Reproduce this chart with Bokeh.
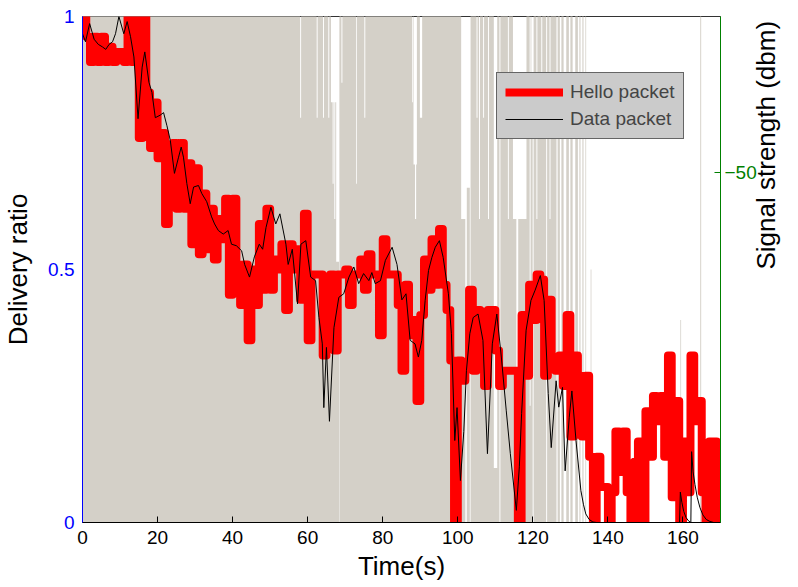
import numpy as np
from bokeh.plotting import figure
from bokeh.models import Range1d, LinearAxis, FixedTicker, Legend, LegendItem
from bokeh.embed import file_html
from bokeh.resources import INLINE

FONT = "Liberation Sans"

# Hello packet delivery ratio, one sample per second (t = 0 .. 170 s)
hello_time = list(range(0, 171))
hello_ratio = [
    1.00, 0.96, 0.91, 0.96, 0.91, 0.96, 0.91, 0.94, 0.91, 0.93,
    0.93, 0.91, 1.00, 0.91, 1.00, 0.76, 1.00, 0.85, 0.74, 0.83,
    0.72, 0.77, 0.59, 0.72, 0.75, 0.62, 0.75, 0.62, 0.71, 0.55,
    0.70, 0.53, 0.65, 0.54, 0.62, 0.52, 0.60, 0.56, 0.64, 0.45,
    0.64, 0.51, 0.43, 0.51, 0.36, 0.50, 0.43, 0.59, 0.46, 0.62,
    0.46, 0.52, 0.50, 0.55, 0.42, 0.55, 0.50, 0.54, 0.44, 0.61,
    0.36, 0.49, 0.49, 0.49, 0.33, 0.35, 0.49, 0.34, 0.49, 0.49,
    0.50, 0.43, 0.49, 0.49, 0.52, 0.46, 0.53, 0.49, 0.49, 0.37,
    0.56, 0.49, 0.49, 0.49, 0.43, 0.30, 0.47, 0.37, 0.40, 0.24,
    0.41, 0.52, 0.46, 0.56, 0.47, 0.58, 0.47, 0.42, 0.32, 0.00,
    0.32, 0.28, 0.31, 0.46, 0.30, 0.42, 0.37, 0.27, 0.42, 0.42,
    0.34, 0.27, 0.30, 0.30, 0.30, 0.30, 0.00, 0.41, 0.29, 0.47,
    0.40, 0.49, 0.48, 0.29, 0.44, 0.32, 0.30, 0.33, 0.27, 0.41,
    0.17, 0.33, 0.29, 0.17, 0.29, 0.13, 0.00, 0.13, 0.07, 0.07,
    0.00, 0.06, 0.18, 0.10, 0.18, 0.06, 0.00, 0.12, 0.16, 0.00,
    0.22, 0.13, 0.25, 0.20, 0.25, 0.13, 0.33, 0.05, 0.24, 0.00,
    0.16, 0.06, 0.33, 0.20, 0.24, 0.06, 0.00, 0.16, 0.16, 0.00,
    0.00,
]

# Data packet delivery ratio (irregular sample times, s)
data_time = [
    0.0, 0.8, 1.9, 3.1, 4.2, 5.3, 6.2, 7.1, 8.0, 8.8,
    9.7, 11.0, 11.9, 12.8, 13.7, 14.8, 15.9, 16.6, 17.7, 18.5,
    19.4, 20.7, 21.6, 22.5, 23.4, 24.5, 25.6, 26.3, 26.9, 27.8,
    28.7, 29.6, 30.9, 31.8, 33.1, 34.4, 35.2, 36.2, 37.5, 38.8,
    39.7, 41.0, 42.4, 43.2, 44.5, 45.8, 47.1, 48.0, 48.9, 50.2,
    51.5, 52.6, 54.2, 54.8, 55.9, 57.3, 58.2, 59.5, 60.8, 62.1,
    63.0, 63.9, 64.3, 65.0, 65.8, 67.0, 68.3, 69.6, 71.0, 72.3,
    73.6, 74.9, 76.3, 77.1, 78.0, 79.4, 80.7, 82.5, 83.8, 85.1,
    86.2, 87.3, 88.6, 89.5, 90.4, 91.3, 92.2, 93.1, 94.0, 95.1,
    96.1, 97.5, 98.3, 99.2, 99.8, 100.7, 101.6, 102.3, 103.2, 104.1,
    105.4, 106.7, 107.9, 109.2, 110.4, 111.6, 112.9, 114.0, 115.6, 116.4,
    117.0, 118.2, 119.5, 120.6, 122.0, 123.0, 124.1, 124.9, 126.2, 126.9,
    127.9, 128.6, 129.7, 130.4, 131.5, 132.8, 133.5, 134.1, 135.0, 136.0,
    137.0, 159.1, 159.3, 159.7, 160.2, 160.8, 161.5, 162.1, 162.3, 162.7,
    163.2, 163.8, 164.5, 165.3, 166.2, 167.2, 168.2, 170.0,
]
data_ratio = [
    0.966, 0.950, 0.986, 0.955, 0.945, 0.940, 0.935, 0.945, 0.950, 0.966,
    1.000, 0.966, 0.990, 0.960, 0.920, 0.798, 0.900, 0.930, 0.870, 0.850,
    0.800, 0.805, 0.810, 0.784, 0.755, 0.690, 0.722, 0.742, 0.722, 0.670,
    0.630, 0.663, 0.666, 0.650, 0.634, 0.604, 0.590, 0.577, 0.570, 0.577,
    0.550, 0.547, 0.537, 0.510, 0.485, 0.525, 0.550, 0.540, 0.583, 0.623,
    0.590, 0.610, 0.550, 0.510, 0.540, 0.432, 0.550, 0.557, 0.485, 0.478,
    0.405, 0.353, 0.227, 0.346, 0.200, 0.385, 0.445, 0.452, 0.485, 0.505,
    0.472, 0.492, 0.478, 0.494, 0.472, 0.478, 0.518, 0.544, 0.510, 0.440,
    0.452, 0.360, 0.353, 0.327, 0.360, 0.439, 0.498, 0.524, 0.544, 0.557,
    0.524, 0.452, 0.373, 0.162, 0.227, 0.083, 0.180, 0.300, 0.373, 0.405,
    0.412, 0.360, 0.136, 0.353, 0.412, 0.327, 0.222, 0.136, 0.024, 0.110,
    0.215, 0.380, 0.439, 0.459, 0.488, 0.439, 0.255, 0.148, 0.280, 0.228,
    0.267, 0.102, 0.208, 0.260, 0.162, 0.063, 0.035, 0.017, 0.006, 0.001,
    0.000, 0.000, 0.060, 0.040, 0.022, 0.010, 0.003, 0.000, 0.140, 0.100,
    0.075, 0.050, 0.030, 0.015, 0.006, 0.002, 0.000, 0.000,
]

# Received signal strength (dbm), held over [start, end) intervals;
# times with no entry had no reading
signal_start = [
    0.0, 58.0, 58.25, 62.4, 62.65, 64.1, 64.35, 65.5, 65.75, 66.2,
    66.65, 66.9, 67.1, 67.35, 67.6, 68.45, 69.0, 69.25, 72.9, 73.1,
    75.1, 75.35, 87.8, 88.0, 88.2, 88.6, 88.9, 89.1, 89.9, 90.5,
    100.9, 102.4, 103.4, 105.0, 105.25, 105.65, 105.9, 106.75, 107.0, 108.05,
    108.3, 109.6, 110.5, 111.35, 113.35, 113.6, 114.7, 115.6, 116.1, 118.3,
    119.15, 119.4, 119.6, 120.2, 120.95, 121.2, 122.25, 122.5, 123.8, 124.45,
    124.7, 126.6, 127.6, 128.9, 130.0, 131.3, 132.4, 133.2, 134.0, 135.4,
    159.3, 164.6,
]
signal_end = [
    58.0, 58.25, 62.4, 62.65, 64.1, 64.35, 65.5, 65.75, 66.2, 66.65,
    66.9, 67.1, 67.35, 67.6, 68.35, 69.0, 69.25, 72.9, 73.1, 75.1,
    75.35, 87.8, 88.0, 88.2, 88.6, 88.9, 89.1, 89.9, 90.5, 100.9,
    102.0, 103.2, 105.0, 105.25, 105.65, 105.9, 106.75, 107.0, 108.05, 108.3,
    109.6, 110.5, 111.1, 113.35, 113.6, 114.7, 115.6, 116.1, 118.3, 119.15,
    119.4, 119.6, 119.95, 120.95, 121.2, 122.25, 122.5, 123.55, 124.45, 124.7,
    126.3, 127.2, 128.2, 129.6, 130.6, 132.0, 132.7, 133.5, 134.2, 135.6,
    159.5, 164.85,
]
signal_dbm = [
    -25, -43, -25, -43, -25, -43, -25, -43, -25, -41,
    -51.5, -41, -56, -41, -61.5, -25, -38.5, -25, -51.5, -25,
    -43, -25, -41, -25, -49, -56, -49, -25, -43, -25,
    -56, -52, -25, -43, -25, -56, -25, -43, -25, -56,
    -25, -88, -25, -25, -56, -25, -56, -80, -56, -25,
    -80, -25, -43, -25, -56, -25, -43, -25, -25, -56,
    -25, -25, -25, -25, -25, -25, -25, -25, -25, -62.5,
    -69, -25,
]
signal_floor = -95

time_ticks = [0, 20, 40, 60, 80, 100, 120, 140, 160]
ratio_ticks = [0, 0.5, 1]
signal_ticks = [-50]

p = figure(
    width=798, height=587, output_backend="svg", toolbar_location=None,
    x_range=Range1d(0, 170), y_range=Range1d(0, 1),
    x_axis_location=None, y_axis_location=None,
    min_border_left=80, min_border_right=76, min_border_top=16, min_border_bottom=65,
)
p.extra_y_ranges = {"signal": Range1d(signal_floor, -30)}
p.xgrid.visible = False
p.ygrid.visible = False
p.outline_line_color = "#333333"
p.background_fill_color = "white"
p.border_fill_color = "white"

# signal strength drawn as one stepped area from the axis floor
area_x, area_y = [], []
prev_end = None
for s, e, d in zip(signal_start, signal_end, signal_dbm):
    if prev_end is None or abs(s - prev_end) > 1e-9:
        if prev_end is not None:
            area_x.append(prev_end)
            area_y.append(signal_floor)
        area_x.append(s)
        area_y.append(signal_floor)
    area_x += [s, e]
    area_y += [d, d]
    prev_end = e
area_x.append(prev_end)
area_y.append(signal_floor)
p.patch(area_x, area_y, y_range_name="signal", fill_color="#d4d0c8", line_color=None)

r_hello = p.step(hello_time, hello_ratio, mode="after", line_width=8,
                 line_color="#ff0000", line_join="round")
r_data = p.line(data_time, data_ratio, line_width=1, line_color="black")


def style_axis(ax, color, tick_in=6):
    ax.axis_line_color = color
    ax.major_tick_line_color = color
    ax.major_label_text_color = color
    ax.major_tick_in = tick_in
    ax.major_tick_out = 0
    ax.minor_tick_line_color = None
    ax.major_label_text_font = FONT
    ax.major_label_text_font_size = "19px"
    ax.axis_label_text_font = FONT
    ax.axis_label_text_font_size = "26px"
    ax.axis_label_text_font_style = "normal"
    ax.axis_label_text_color = "black"


bottom = LinearAxis(ticker=FixedTicker(ticks=time_ticks), axis_label="Time(s)")
style_axis(bottom, "black")
bottom.major_label_standoff = 8
bottom.axis_label_standoff = 4
p.add_layout(bottom, "below")

left = LinearAxis(ticker=FixedTicker(ticks=ratio_ticks), axis_label="Delivery ratio",
                  major_label_overrides={0: "0", 0.5: "0.5", 1: "1"})
style_axis(left, "#0000ff", tick_in=0)
left.major_label_standoff = 8
left.axis_label_standoff = 12
p.add_layout(left, "left")

right = LinearAxis(y_range_name="signal", ticker=FixedTicker(ticks=signal_ticks),
                   major_label_overrides={-50: "\u221250"})
style_axis(right, "#008000")
right.major_label_standoff = 4
p.add_layout(right, "right")

# outer right band carrying the signal axis title, set upright (reading upwards)
right_title = LinearAxis(ticker=FixedTicker(ticks=[0.5]),
                         major_label_overrides={0.5: "Signal strength (dbm)"},
                         major_label_orientation=np.pi / 2)
right_title.axis_line_color = None
right_title.major_tick_line_color = None
right_title.minor_tick_line_color = None
right_title.major_tick_in = 0
right_title.major_tick_out = 0
right_title.major_label_standoff = 6
right_title.major_label_text_font = FONT
right_title.major_label_text_font_size = "26px"
right_title.major_label_text_color = "black"
p.add_layout(right_title, "right")

legend = Legend(
    items=[LegendItem(label="Hello packet", renderers=[r_hello]),
           LegendItem(label="Data packet", renderers=[r_data])],
    location=(414, 383), orientation="vertical",
    background_fill_color="#cbcbcb", background_fill_alpha=1.0,
    border_line_color="black", border_line_width=1,
    label_text_font=FONT, label_text_font_size="19px",
    glyph_width=58, glyph_height=20, label_height=20,
    label_standoff=7, padding=8, spacing=5, margin=0,
)
p.add_layout(legend)

open("out.html", "w").write(file_html(p, INLINE))
